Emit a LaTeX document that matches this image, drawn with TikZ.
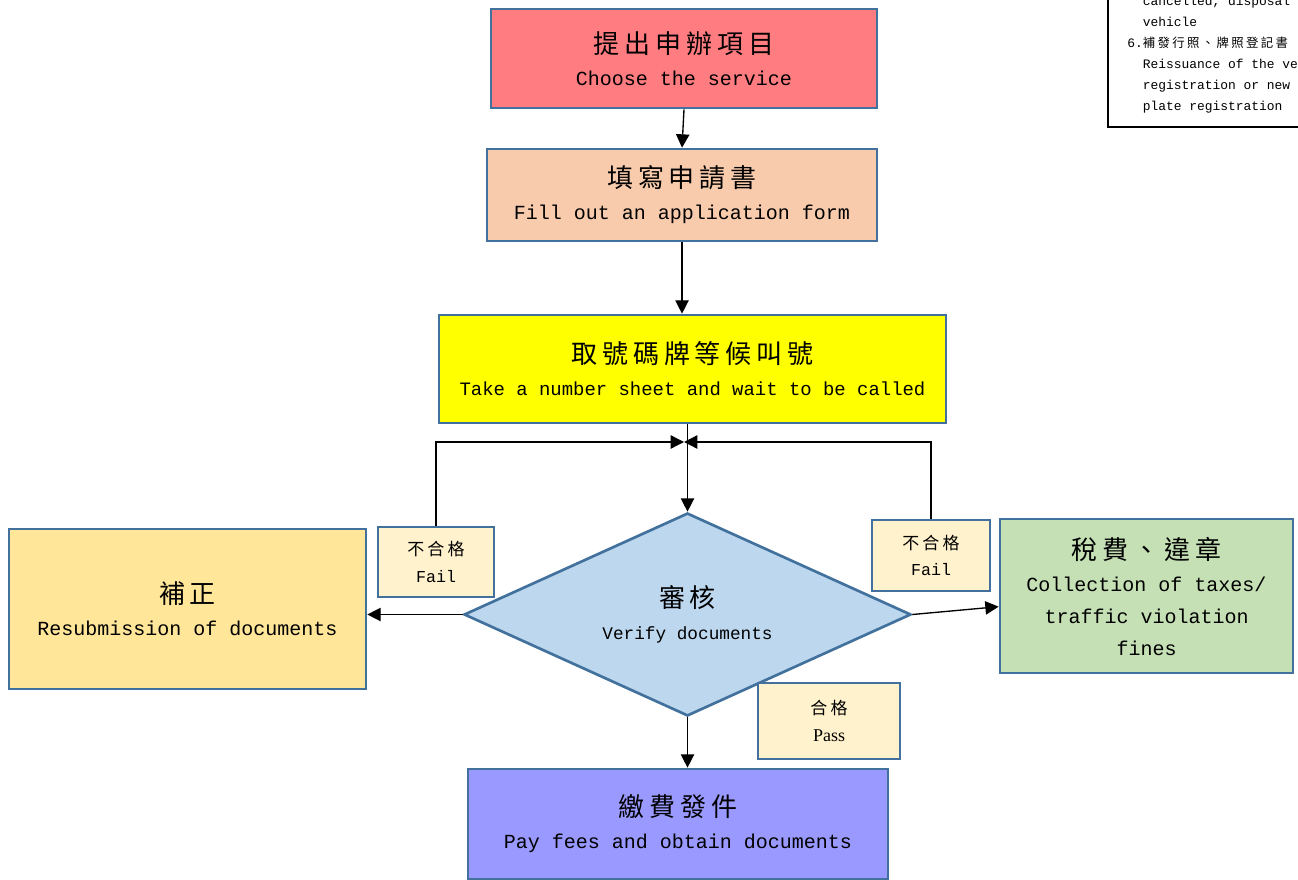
\documentclass[tikz,border=0pt]{standalone}
\usepackage{fontspec}
\setmainfont{Liberation Mono}
\newfontfamily\cjkfont[LetterSpace=19]{Noto Sans CJK TC}
\newfontfamily\passfont{Liberation Serif}
\usetikzlibrary{arrows.meta,shapes.geometric}
\definecolor{bordc}{HTML}{41719C}
\definecolor{redc}{HTML}{FF7C80}
\definecolor{peachc}{HTML}{F8CBAD}
\definecolor{yellc}{HTML}{FFFF00}
\definecolor{diac}{HTML}{BDD7EE}
\definecolor{leftc}{HTML}{FFE699}
\definecolor{greenc}{HTML}{C5E0B4}
\definecolor{bluec}{HTML}{9999FF}
\definecolor{failc}{HTML}{FFF2CC}
\newcommand\zhbig[1]{{\cjkfont\fontsize{19.5pt}{24pt}\selectfont #1}}
\newcommand\zhsmall[1]{{\cjkfont\fontsize{12.75pt}{20pt}\selectfont #1}}
\tikzset{
  box/.style={draw=bordc, line width=2pt, inner sep=0pt, align=center,
              font=\fontsize{15pt}{24pt}\selectfont},
  tagbox/.style={box, fill=failc, font=\fontsize{12.5pt}{20pt}\selectfont},
  arr/.style={-{Triangle[length=10pt,width=10pt]}, line width=1pt, black},
}
\begin{document}
\begin{tikzpicture}[x=0.75pt,y=-0.75pt]
\useasboundingbox (0,0) rectangle (1298,880);

% main boxes
\node[box, fill=redc, minimum width=386*0.75pt, minimum height=99*0.75pt] (red) at (684,58.5)
  {\zhbig{提出申辦項目}\\Choose the service};
\node[box, fill=peachc, minimum width=390*0.75pt, minimum height=92*0.75pt] (peach) at (682,195)
  {\zhbig{填寫申請書}\\Fill out an application form};
\node[box, fill=yellc, minimum width=507*0.75pt, minimum height=108*0.75pt] (yellow) at (692.5,369)
  {\zhbig{取號碼牌等候叫號}\\{\fontsize{14.2pt}{24pt}\selectfont Take a number sheet and wait to be called}};
\node[diamond, aspect=2.2, draw=bordc, line width=2pt, fill=diac, inner sep=0pt, align=center,
      minimum width=447*0.75pt, minimum height=203*0.75pt,
      font=\fontsize{13.3pt}{24pt}\selectfont] (dia) at (687.5,614.5)
  {\zhbig{審核}\\Verify documents};
\node[box, fill=leftc, minimum width=357*0.75pt, minimum height=160*0.75pt] (left) at (187.5,609)
  {\zhbig{補正}\\Resubmission of documents};
\node[box, fill=greenc, minimum width=293*0.75pt, minimum height=154*0.75pt] (green) at (1146.5,596)
  {\zhbig{稅費、違章}\\Collection of taxes/\\traffic violation\\fines};
\node[box, fill=bluec, minimum width=420*0.75pt, minimum height=110*0.75pt] (bot) at (678,824)
  {\zhbig{繳費發件}\\Pay fees and obtain documents};

% tags
\node[tagbox, minimum width=116*0.75pt, minimum height=70*0.75pt] (failL) at (436,562)
  {\zhsmall{不合格}\\Fail};
\node[tagbox, minimum width=118*0.75pt, minimum height=71*0.75pt] (failR) at (931,555.5)
  {\zhsmall{不合格}\\Fail};
\node[tagbox, minimum width=142*0.75pt, minimum height=76*0.75pt] (pass) at (829,721)
  {\zhsmall{合格}\\{\passfont\fontsize{13.5pt}{20pt}\selectfont Pass}};

% notes box (cut off at the page edge)
\draw[line width=1.5pt] (1108,-20) rectangle (1340,127);
\node[anchor=south west, inner sep=0pt, align=left, font=\fontsize{9.7pt}{15.75pt}\selectfont] (notes) at (1127,113)
  {\hspace*{11.64pt}cancelled, disposal\\
   \hspace*{11.64pt}vehicle\\
   6.{\cjkfont\fontsize{9.3pt}{15.75pt}\selectfont 補發行照、牌照登記書}\\
   \hspace*{11.64pt}Reissuance of the ve\\
   \hspace*{11.64pt}registration or new\\
   \hspace*{11.64pt}plate registration};

% connectors
\coordinate (join) at (684,442);
\draw[arr] (red.south) -- (peach.north);
\draw[arr] (peach.south) -- (peach.south |- yellow.north);
\draw[arr] (dia.north |- yellow.south) -- (dia.north);
\draw[arr] (failL.north) |- (join);
\draw[arr] (failR.north) |- (join);
\draw[arr] (dia.west) -- (dia.west -| left.east);
\draw[arr] (dia.east) -- ([yshift=-8pt]green.west);
\draw[arr] (dia.south) -- (dia.south |- bot.north);
\end{tikzpicture}
\end{document}
